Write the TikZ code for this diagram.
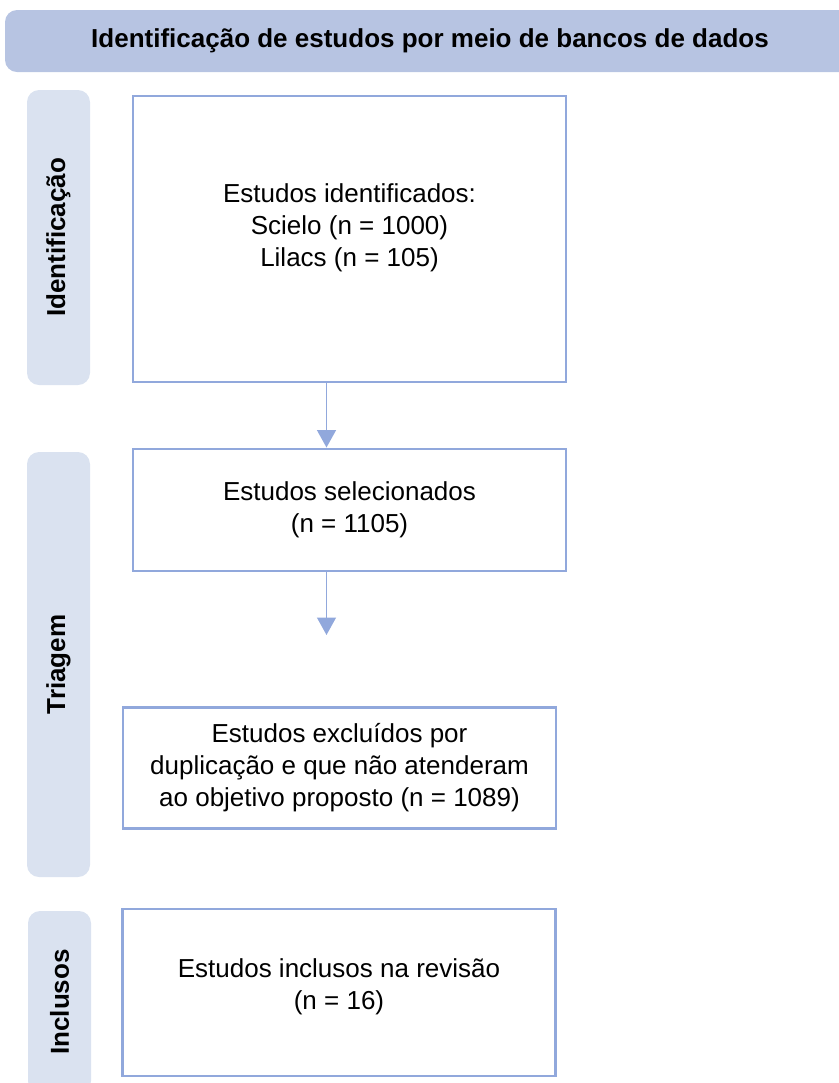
\documentclass[tikz,border=0pt]{standalone}
\usepackage{fontspec}
\setmainfont{Liberation Sans}
\usetikzlibrary{arrows.meta}
\definecolor{hdrblue}{HTML}{B7C4E2}
\definecolor{sideblue}{HTML}{DAE2F0}
\definecolor{lineblue}{HTML}{91A8DC}

\begin{document}
\begin{tikzpicture}[x=0.75pt, y=-0.75pt,
  txt/.style={font=\fontsize{19.5}{24}\selectfont},
  box/.style={txt, draw=lineblue, line width=2.2pt, minimum width=324.75pt, align=center},
  boxtext/.style={txt, align=center},
  side/.style={txt, fill=sideblue, rounded corners=9pt, rotate=90, minimum height=47.25pt, font=\fontsize{19.5}{24}\selectfont\bfseries},
  flow/.style={draw=lineblue, line width=1.4pt, -{Triangle[width=14pt,length=13pt]}}]

  \useasboundingbox (0,0) rectangle (839,1083);
  \clip (0,0) rectangle (839,1083);

  \node[txt, fill=hdrblue, rounded corners=9pt, minimum width=637.5pt, minimum height=46.5pt, font=\fontsize{19.5}{24}\selectfont\bfseries] (header) at (430,41) {Identificação de estudos por meio de bancos de dados};

  \node[side, minimum width=221.25pt] (lIdent) at (58.5,237.5) {Identificação};
  \node[side, minimum width=318.75pt] (lTriagem) at (58.5,664.5) {Triagem};
  \node[side, minimum width=136.5pt] (lIncl) at (59.5,1002) {Inclusos};

  \node[box, minimum height=214.5pt,
    label={[boxtext, yshift=8.5pt]center:{Estudos identificados:\\ Scielo (n = 1000)\\ Lilacs (n = 105)}}] (cIdent) at (349.5,239) {};
  \node[box, minimum height=91.5pt] (cSel) at (349.5,510) {Estudos selecionados\\ (n = 1105)};
  \node[box, minimum height=90.75pt] (cExcl) at (339.5,768) {Estudos excluídos por\\ duplicação e que não atenderam\\ ao objetivo proposto (n = 1089)};
  \node[box, minimum height=125.25pt,
    label={[boxtext, yshift=4.5pt]center:{Estudos inclusos na revisão\\ (n = 16)}}] (cIncl) at (339,992.5) {};

  \coordinate (cArr) at (326.5,635);
  \draw[flow] ([xshift=-17.25pt]cIdent.south) -- ([xshift=-17.25pt]cSel.north);
  \draw[flow] ([xshift=-17.25pt]cSel.south) -- (cArr);
\end{tikzpicture}
\end{document}
